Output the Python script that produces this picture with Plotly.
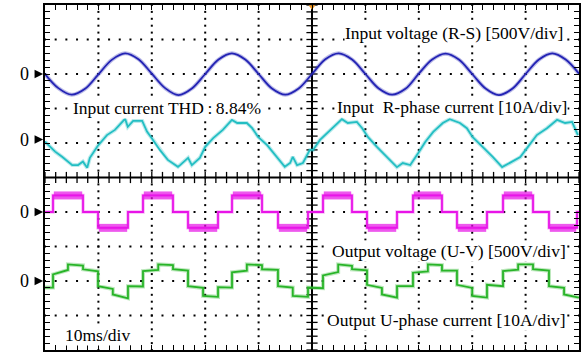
import plotly.graph_objects as go

# ---------------- data ----------------
# time axis: 10 ms/div, 10 divisions
blue_t = [0, 2.5, 5, 7.5, 10, 12.5, 15, 17.5, 20, 22.5, 25, 27.5, 30, 32.5, 35, 37.5, 40,
          42.5, 45, 47.5, 50, 52.5, 55, 57.5, 60, 62.5, 65, 67.5, 70, 72.5, 75, 77.5, 80,
          82.5, 85, 87.5, 90, 92.5, 95, 97.5, 100]
blue_v = [0, -205, -300, -215, -5, 205, 300, 215, 5, -205, -305, -210, 0, 210, 300, 210, 0,
          -210, -300, -210, 0, 215, 300, 210, 0, -210, -300, -215, 5, 210, 295, 210, 0,
          -210, -305, -215, 0, 210, 300, 210, 5]

cyan_t = [0.0, 1.9, 3.2, 5.1, 6.2, 7.1, 7.9, 8.4, 9.9, 11.6, 13.1, 14.4, 15.0, 15.5, 16.5, 18.2,
          19.1, 20.0, 21.5, 23.0, 24.9, 25.3, 26.8, 27.5, 29.0, 30.0, 31.5, 33.3, 35.0, 36.0,
          37.8, 38.8, 39.9, 41.6, 43.4, 44.9, 45.9, 46.4, 47.2, 48.3, 49.6, 50.2, 51.5, 52.8,
          54.3, 55.6, 56.7, 58.4, 59.4, 60.5, 62.2, 64.0, 65.9, 67.0, 68.4, 69.9, 71.2, 72.7,
          74.5, 75.8, 77.7, 79.0, 80.1, 82.0, 83.9, 85.6, 87.1, 89.0, 90.4, 92.1, 94.0, 95.9,
          97.4, 98.7, 99.8]
cyan_i = [-0.6, -3.5, -5.0, -7.4, -7.4, -6.4, -8.2, -5.3, -1.8, 1.3, 2.8, 5.2, 6.0, 3.7, 5.4, 5.4,
          2.3, 0.4, -3.0, -5.9, -7.9, -7.4, -5.3, -7.4, -5.3, -2.1, 0.4, 2.8, 5.7, 4.8,
          4.8, 3.3, 0.8, -1.6, -5.0, -7.9, -6.8, -5.0, -7.4, -6.8, -3.0, -3.0, -0.1, 1.9,
          4.2, 5.9, 4.8, 5.1, 3.3, 0.7, -2.2, -5.1, -8.0, -6.8, -7.4, -3.9, -0.7, 2.2,
          4.8, 5.9, 4.8, 3.3, 0.7, -2.2, -5.1, -8.0, -6.8, -5.1, -2.2, 1.3, 3.3, 5.7,
          4.8, 5.1, 1.3]

pink_t = [0, 1.50, 7.12, 9.93, 15.54, 18.35, 23.97, 26.78, 32.40, 35.02, 40.64, 43.63, 49.25,
          52.06, 57.49, 60.30, 65.92, 68.91, 74.34, 77.15, 82.77, 85.77, 91.39, 94.38, 99.63, 100]
pink_v = [0, 240, 0, -230, 0, 240, 0, -230, 0, 240, 0, -230, 0,
          240, 0, -230, 0, 240, 0, -230, 0, 240, 0, -230, 0, 0]

green_t = [0, 1.50, 4.30, 7.12, 9.93, 12.7, 15.54, 18.35, 21.2, 23.97, 26.78, 29.6, 32.40,
           35.02, 37.8, 40.64, 43.63, 46.4, 49.25, 52.06, 54.9, 57.49, 60.30, 63.1, 65.92,
           68.91, 71.7, 74.34, 77.15, 80.0, 82.77, 85.77, 88.6, 91.39, 94.38, 97.2, 100]
green_start = [-1.9, 1.9, 4.8, 3.4, -1.5, -3.9, -1.5, 2.9, 4.8, 3.4, -1.5, -4.3,
               -1.8, 2.5, 4.8, 3.4, -1.5, -4.3, -1.9, 1.6, 4.8, 3.4, -1.1, -3.9,
               -1.5, 2.4, 4.8, 3.0, -1.1, -4.3, -1.1, 2.9, 4.8, 3.4, -1.5, -3.9]
green_end = [-1.9, 3.2, 4.5, 2.8, -2.3, -5.0, -1.6, 3.2, 4.6, 3.0, -2.0, -4.6,
             -1.9, 3.0, 4.6, 3.2, -1.9, -4.6, -2.1, 2.6, 4.4, 3.1, -2.0, -4.8,
             -1.5, 2.8, 4.6, 3.0, -2.0, -4.8, -1.5, 3.3, 4.8, 3.0, -2.0, -4.8]

# channel settings: (scale per div, zero-marker position in div)
V_SCALE, I_SCALE = 500.0, 10.0
BLUE_OFF, CYAN_OFF, PINK_OFF, GREEN_OFF = 3.0, 1.1, -1.0, -3.0

labels = ["Input voltage (R-S) [500V/div]", "Input\u00a0 R-phase current [10A/div]",
          "Input current THD\u2009:\u20098.84%", "Output voltage (U-V) [500V/div]",
          "Output U-phase current [10A/div]", "10ms/div"]

# ---------------- figure ----------------
FONT = "Liberation Serif, Times New Roman, serif"
BLUE = "rgb(35,35,180)"
CYAN = "rgb(35,190,195)"
PINK = "rgb(232,20,232)"
GREEN = "rgb(40,180,40)"

fig = go.Figure()

# dotted graticule
gx, gy = [], []
for k in range(-4, 5):
    if k == 0:
        continue
    for m in range(0, 51):
        gx.append(m * 2.0)
        gy.append(k)
for k in range(1, 10):
    if k == 5:
        continue
    for m in range(-25, 26):
        gx.append(k * 10.0)
        gy.append(m * 0.2)
fig.add_trace(go.Scatter(x=gx, y=gy, mode="markers", hoverinfo="skip",
                         marker=dict(symbol="square", size=2, color="black", line=dict(width=0))))

# center lines
fig.add_shape(type="line", x0=0, x1=100, y0=0, y1=0, line=dict(color="black", width=2), layer="below")
fig.add_shape(type="line", x0=50, x1=50, y0=-5, y1=5, line=dict(color="black", width=2), layer="below")
fig.add_trace(go.Scatter(x=[m * 2.0 for m in range(51)], y=[0] * 51, mode="markers", hoverinfo="skip",
                         marker=dict(symbol="line-ns", size=8, line=dict(width=1.3, color="black"))))
fig.add_trace(go.Scatter(x=[50] * 51, y=[m * 0.2 for m in range(-25, 26)], mode="markers", hoverinfo="skip",
                         marker=dict(symbol="line-ew", size=8, line=dict(width=1.3, color="black"))))


def add_wave(x, y, color, shape="linear", halo=4.0, width=1.8):
    fig.add_trace(go.Scatter(x=x, y=y, mode="lines", line=dict(color=color, width=halo, shape=shape),
                             opacity=0.3, hoverinfo="skip"))
    fig.add_trace(go.Scatter(x=x, y=y, mode="lines", line=dict(color=color, width=width, shape=shape),
                             hoverinfo="skip"))


add_wave(blue_t, [BLUE_OFF + v / V_SCALE for v in blue_v], BLUE, shape="spline")
add_wave(cyan_t, [CYAN_OFF + i / I_SCALE for i in cyan_i], CYAN)

# output voltage: step waveform plus switching-noise band on the plateaus
pink_y = [PINK_OFF + v / V_SCALE for v in pink_v]
bx, by = [], []
for a, b, v in zip(pink_t[:-1], pink_t[1:], pink_v[:-1]):
    if v != 0:
        bx += [a + 0.15, b - 0.15, None]
        by += [PINK_OFF + v / V_SCALE] * 2 + [None]
fig.add_trace(go.Scatter(x=bx, y=by, mode="lines", line=dict(color=PINK, width=8), opacity=0.7,
                         hoverinfo="skip", connectgaps=False))
add_wave(pink_t, pink_y, PINK, shape="hv", halo=3.5, width=1.8)

# output current: stepped waveform
gxs, gys = [], []
for a, b, s, e in zip(green_t[:-1], green_t[1:], green_start, green_end):
    gxs += [a, b]
    gys += [GREEN_OFF + s / I_SCALE, GREEN_OFF + e / I_SCALE]
add_wave(gxs, gys, GREEN)

# trigger marker
fig.add_trace(go.Scatter(x=[50], y=[4.95], mode="markers", cliponaxis=False, hoverinfo="skip",
                         marker=dict(symbol="triangle-down", size=6, color="rgb(240,150,30)")))

# zero markers (black arrowheads) and "0" labels, left of the screen
for yv in [BLUE_OFF, CYAN_OFF, PINK_OFF, GREEN_OFF]:
    yp = (yv + 5) / 10.0
    fig.add_shape(type="path", xref="paper", yref="paper",
                  path=f"M -0.0195,{yp - 0.0125} L -0.0035,{yp} L -0.0195,{yp + 0.0125} Z",
                  fillcolor="black", line=dict(width=0))
    fig.add_annotation(xref="paper", x=-0.051, y=yv, yref="y", text="0", showarrow=False,
                       font=dict(family=FONT, size=18, color="black"))

ann_pos = [(76.6, 4.19), (76.3, 2.04), (22.8, 2.01), (75.6, -2.13), (75.1, -4.13), (9.74, -4.57)]
for (ax, ay), txt in zip(ann_pos, labels):
    fig.add_annotation(x=ax, y=ay, text=txt, showarrow=False, bgcolor="white", borderpad=0,
                       font=dict(family=FONT, size=17.5, color="black"))

fig.update_xaxes(range=[0, 100], showgrid=False, zeroline=False, showticklabels=False,
                 showline=True, linecolor="black", linewidth=2, mirror="allticks",
                 ticks="inside", tickvals=[m * 2.0 for m in range(51)], ticklen=5,
                 tickwidth=1.2, tickcolor="black")
fig.update_yaxes(range=[-5, 5], showgrid=False, zeroline=False, showticklabels=False,
                 showline=True, linecolor="black", linewidth=2, mirror="allticks",
                 ticks="inside", tickvals=[round(m * 0.2, 2) for m in range(-25, 26)], ticklen=5,
                 tickwidth=1.2, tickcolor="black")

fig.update_layout(width=585, height=353, margin=dict(l=45, r=6, t=5, b=3),
                  paper_bgcolor="white", plot_bgcolor="white", showlegend=False)

fig.write_html("out.html", config={"displayModeBar": False},
               post_script="document.body.style.margin='0';document.body.style.overflow='hidden';")
